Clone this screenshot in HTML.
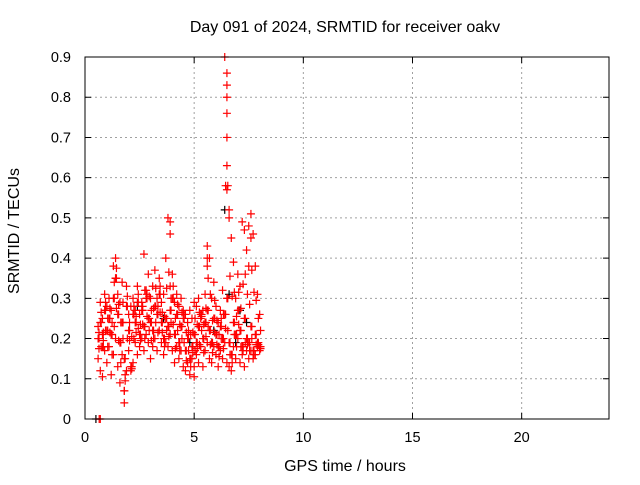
<!DOCTYPE html>
<html><head><meta charset="utf-8"><style>
body{margin:0;background:#fff}
svg text{font-family:"Liberation Sans",sans-serif;font-size:14.5px;fill:#000}
svg text.big{font-size:16px}
</style></head><body>
<svg id="chart" width="640" height="480">
<text class="big" x="345" y="32" text-anchor="middle">Day 091 of 2024, SRMTID for receiver oakv</text>
<text class="big" x="345" y="471" text-anchor="middle">GPS time / hours</text>
<text class="big" transform="translate(19,231) rotate(-90)" text-anchor="middle">SRMTID / TECUs</text>
<g id="grid"></g><g id="axes"></g><g id="marks"></g>
<rect x="85" y="57" width="524" height="362" fill="none" stroke="#000" stroke-width="1"/>
</svg>
<script>
const xTicks=[0,5,10,15,20];
const yTicks=[0,0.1,0.2,0.3,0.4,0.5,0.6,0.7,0.8,0.9];
const yTickLabels=["0","0.1","0.2","0.3","0.4","0.5","0.6","0.7","0.8","0.9"];
const times=[0.6,0.7,0.8,0.9,1.0,1.1,1.2,1.3,1.4,1.5,1.6,1.7,1.8,1.9,2.0,2.1,2.2,2.3,2.4,2.5,2.6,2.7,2.8,2.9,3.0,3.1,3.2,3.3,3.4,3.5,3.6,3.7,3.8,3.9,4.0,4.1,4.2,4.3,4.4,4.5,4.6,4.7,4.8,4.9,5.0,5.1,5.2,5.3,5.4,5.5,5.6,5.7,5.8,5.9,6.0,6.1,6.2,6.3,6.4,6.5,6.6,6.7,6.8,6.9,7.0,7.1,7.2,7.3,7.4,7.5,7.6,7.7,7.8,7.9,8.0];
const valsA=[.20,.24,.18,.27,.22,.25,.21,.30,.35,.26,.19,.24,.15,.28,.22,.13,.26,.24,.29,.21,.27,.23,.30,.25,.24,.22,.28,.26,.31,.24,.20,.25,.23,.27,.30,.21,.26,.19,.23,.25,.17,.20,.15,.18,.21,.19,.23,.26,.20,.24,.27,.22,.19,.25,.21,.18,.23,.20,.26,.30,.19,.16,.24,.21,.27,.22,.18,.25,.20,.19,.23,.17,.21,.19,.18];
const valsB=[.15,.12,.21,.17,.14,.18,.11,.16,.20,.13,.09,.16,.07,.12,.17,.12,.14,.19,.16,.18,.20,.17,.21,.19,.15,.18,.20,.17,.22,.19,.16,.19,.18,.21,.17,.14,.18,.15,.17,.13,.12,.14,.11,.15,.13,.16,.14,.18,.13,.17,.19,.15,.14,.18,.16,.13,.17,.15,.19,.14,.13,.12,.18,.15,.20,.14,.16,.13,.17,.15,.17,.15,.16,.18,.17];
const valsC=[.23,.29,.25,.31,.28,.30,.27,.38,.40,.31,.29,.34,.04,.33,.26,.28,.30,.27,.33,.26,.29,.41,.32,.36,.30,.33,.37,.30,.35,.29,.31,.40,.50,.33,.36,.29,.31,.28,.30,.27,.26,.24,.27,.25,.29,.28,.30,.25,.27,.31,.43,.40,.30,.34,.28,.24,.27,.32,.90,.86,.52,.45,.39,.30,.36,.33,.49,.47,.42,.38,.51,.46,.38,.31,.26];
const spikeTimes=[6.5,6.5,6.5,6.5,6.5,6.5,6.6,3.9,3.9,5.6,5.6,1.4,7.5,7.6,0.65,0.7,1.8,0.8,5.0];
const spikeVals=[.83,.80,.76,.70,.63,.57,.50,.49,.46,.40,.38,.35,.48,.45,0,0,.07,.105,.105];
const blackTimes=[0.5,5.9,6.4,6.6,6.9,7.1,7.4,2.4,3.6,4.8];
const blackVals=[0,.22,.52,.31,.19,.27,.24,.28,.25,.19];
const NS='http://www.w3.org/2000/svg';
const X=t=>85+t*(524/24), Y=v=>419-v*(362/0.9);
function mk(tag,attrs,parent){const e=document.createElementNS(NS,tag);for(const k in attrs)e.setAttribute(k,attrs[k]);parent.appendChild(e);return e;}
const grid=document.getElementById('grid'),axes=document.getElementById('axes'),marks=document.getElementById('marks');
xTicks.forEach(t=>{
 if(t>0){const g=mk('line',{x1:X(t),x2:X(t),y1:57,y2:419,stroke:'#a0a0a0','stroke-dasharray':'2,3'},grid);
 
 }
 const tk=mk('path',{d:`M${X(t)},419v-6M${X(t)},57v6`,stroke:'#000'},axes);
 
 
 const l=mk('text',{x:X(t),y:442,'text-anchor':'middle'},axes);l.textContent=t;
 
 
});
yTicks.forEach((v,i)=>{
 if(i>0&&i<yTicks.length-1){const g=mk('line',{x1:85,x2:609,y1:Y(v),y2:Y(v),stroke:'#a0a0a0','stroke-dasharray':'2,3'},grid);
 
 }
 const tk=mk('path',{d:`M85,${Y(v)}h6M609,${Y(v)}h-6`,stroke:'#000'},axes);
 
 
 const l=mk('text',{x:71,y:Y(v)+5,'text-anchor':'end'},axes);l.textContent=yTickLabels[i];
 
 
});
function plus(t,v,c){const p=mk('path',{d:`M${X(t)-4},${Y(v)}h8M${X(t)},${Y(v)-4}v8`,stroke:c,'stroke-width':1.2},marks);
 
 }
blackTimes.forEach((t,i)=>plus(t,blackVals[i],'#000'));
[valsA,valsB,valsC].forEach(arr=>times.forEach((t,i)=>{plus(t,arr[i],'#f00');plus(t+0.04,(arr[i]+valsA[i])/2,'#f00');}));
spikeTimes.forEach((t,i)=>plus(t,spikeVals[i],'#f00'));
</script>
</body></html>
